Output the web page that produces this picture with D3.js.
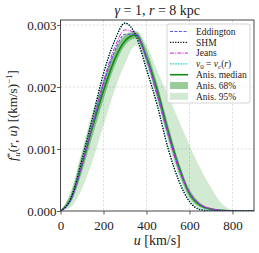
<!DOCTYPE html>
<html>
<head>
<meta charset="utf-8">
<script src="https://cdn.jsdelivr.net/npm/d3@7"></script>
<style>
  body { margin: 0; background: #fff; }
</style>
</head>
<body>
<div id="chart"></div>
<script>
// speed grid, km/s
const speeds = [0, 50, 100, 150, 200, 250, 300, 350, 400, 450, 500, 550, 600, 650, 700, 750, 800, 850, 900];

// f*_u(r,u)
const eddington = [0, 0.00019, 0.00073, 0.00139, 0.00204, 0.00256, 0.00285, 0.00285, 0.00248, 0.00190, 0.00127, 0.00070, 0.00030, 0.00010, 0.00003, 0.00001, 0, 0, 0];
const shm       = [0, 0.00022, 0.00083, 0.00152, 0.00222, 0.00273, 0.00303, 0.00283, 0.00228, 0.00170, 0.00101, 0.00049, 0.00015, 0.00002, 0, 0, 0, 0, 0];
const jeans     = [0, 0.00020, 0.00076, 0.00142, 0.00208, 0.00262, 0.00292, 0.00286, 0.00244, 0.00186, 0.00123, 0.00068, 0.00030, 0.00011, 0.00004, 0.00001, 0, 0, 0];
const vcirc     = [0, 0.00022, 0.00082, 0.00151, 0.00221, 0.00273, 0.00303, 0.00284, 0.00230, 0.00172, 0.00103, 0.00050, 0.00016, 0.00003, 0, 0, 0, 0, 0];
const anisMed   = [0, 0.00021, 0.00075, 0.00137, 0.00194, 0.00243, 0.00274, 0.00284, 0.00248, 0.00195, 0.00130, 0.00072, 0.00028, 0.00009, 0.00003, 0.00001, 0, 0, 0];
const anisLo68  = [0, 0.00015, 0.00063, 0.00122, 0.00180, 0.00232, 0.00267, 0.00278, 0.00240, 0.00183, 0.00118, 0.00062, 0.00022, 0.00006, 0.00001, 0, 0, 0, 0];
const anisHi68  = [0, 0.00030, 0.00092, 0.00155, 0.00210, 0.00255, 0.00283, 0.00289, 0.00260, 0.00205, 0.00140, 0.00080, 0.00035, 0.00013, 0.00004, 0.00001, 0, 0, 0];
const anisLo95  = [0, 0.00007, 0.00036, 0.00082, 0.00138, 0.00193, 0.00238, 0.00267, 0.00235, 0.00176, 0.00112, 0.00056, 0.00018, 0.00004, 0, 0, 0, 0, 0];
const anisHi95  = [0, 0.00034, 0.00098, 0.00162, 0.00217, 0.00260, 0.00285, 0.00291, 0.00268, 0.00226, 0.00187, 0.00146, 0.00106, 0.00069, 0.00038, 0.00012, 0.00002, 0, 0];

const xTicks = [0, 200, 400, 600, 800];
const yTicks = [0, 0.001, 0.002, 0.003];

const serif = "Liberation Serif";

const W = 259, H = 253;
const margin = { top: 20, right: 5, bottom: 42, left: 60.5 };
const width = W - margin.left - margin.right,
      height = H - margin.top - margin.bottom;

const svg = d3.select("#chart").append("svg")
    .attr("width", W)
    .attr("height", H);

const g = svg.append("g")
    .attr("transform", `translate(${margin.left},${margin.top})`);

const x = d3.scaleLinear().domain([0, 900]).range([0, width]);
const y = d3.scaleLinear().domain([0, 0.00308]).range([height, 0]);

// grid
g.append("g").selectAll("line").data(xTicks.slice(1)).join("line")
    .attr("x1", d => x(d)).attr("x2", d => x(d))
    .attr("y1", 0).attr("y2", height)
    .attr("stroke", "#d4d4d4").attr("stroke-width", 0.7).attr("stroke-dasharray", "2.5,1.5");
g.append("g").selectAll("line").data(yTicks.slice(1)).join("line")
    .attr("x1", 0).attr("x2", width)
    .attr("y1", d => y(d)).attr("y2", d => y(d))
    .attr("stroke", "#d4d4d4").attr("stroke-width", 0.7).attr("stroke-dasharray", "2.5,1.5");

svg.append("clipPath").attr("id", "clip")
  .append("rect").attr("width", width).attr("height", height);

const plot = g.append("g").attr("clip-path", "url(#clip)");

const rows = speeds.map((u, i) => ({ u, i }));

const band = (lo, hi) => d3.area()
    .x(d => x(d.u))
    .y0(d => y(lo[d.i]))
    .y1(d => y(hi[d.i]))
    .curve(d3.curveMonotoneX);

plot.append("path").datum(rows)
    .attr("d", band(anisLo95, anisHi95))
    .attr("fill", "#2ca02c").attr("fill-opacity", 0.22);
plot.append("path").datum(rows)
    .attr("d", band(anisLo68, anisHi68))
    .attr("fill", "#1f8f1f").attr("fill-opacity", 0.45);

const line = vals => d3.line()
    .x(d => x(d.u))
    .y(d => y(vals[d.i]))
    .curve(d3.curveMonotoneX);

const series = [
  { vals: anisMed,   color: "#138a13", width: 1.6, dash: null },
  { vals: eddington, color: "#5555ff", width: 1.1, dash: "3,1.5" },
  { vals: jeans,     color: "#e010e0", width: 1.0, dash: "4,1.2,1,1.2" },
  { vals: vcirc,     color: "#20d0d0", width: 1.1, dash: "1.6,1" },
  { vals: shm,       color: "#000000", width: 1.3, dash: "1.2,1.4" }
];

series.forEach(s => {
  plot.append("path").datum(rows)
      .attr("d", line(s.vals))
      .attr("fill", "none")
      .attr("stroke", s.color)
      .attr("stroke-width", s.width)
      .attr("stroke-dasharray", s.dash);
});

// axes
const xAxis = g.append("g")
    .attr("transform", `translate(0,${height})`)
    .call(d3.axisBottom(x).tickValues(xTicks).tickSize(3.5).tickFormat(d3.format("d")));
const yAxis = g.append("g")
    .call(d3.axisLeft(y).tickValues(yTicks).tickSize(3.5).tickFormat(d3.format(".3f")));
[xAxis, yAxis].forEach(a => {
  a.select(".domain").remove();
  a.selectAll("line").attr("stroke", "#333").attr("stroke-width", 0.8);
  a.selectAll("text").attr("fill", "#222")
      .style("font-family", serif).style("font-size", "13px");
});
xAxis.selectAll("text").attr("dy", "0.95em");
yAxis.selectAll("text").attr("x", -4);

g.append("rect")
    .attr("width", width).attr("height", height)
    .attr("fill", "none").attr("stroke", "#333").attr("stroke-width", 0.9);

// title
const title = svg.append("text")
    .attr("x", margin.left + width / 2).attr("y", 15)
    .attr("text-anchor", "middle")
    .style("font-family", serif).style("font-size", "14px").attr("fill", "#222");
title.append("tspan").style("font-style", "italic").text("γ");
title.append("tspan").text(" = 1,  ");
title.append("tspan").style("font-style", "italic").text("r");
title.append("tspan").text(" = 8 kpc");

// x label
const xl = svg.append("text")
    .attr("x", margin.left + width / 2).attr("y", 245)
    .attr("text-anchor", "middle")
    .style("font-family", serif).style("font-size", "14px").attr("fill", "#222");
xl.append("tspan").style("font-style", "italic").text("u");
xl.append("tspan").text(" [km/s]");

// y label
const yl = svg.append("text")
    .attr("transform", `translate(17,${margin.top + height / 2}) rotate(-90)`)
    .attr("text-anchor", "middle")
    .style("font-family", serif).style("font-size", "13px").attr("fill", "#222");
yl.append("tspan").style("font-style", "italic").text("f");
yl.append("tspan").attr("dy", -4).style("font-size", "9px").text("*");
yl.append("tspan").attr("dy", 7).attr("dx", -4).style("font-size", "9px").style("font-style", "italic").text("u");
yl.append("tspan").attr("dy", -3).text("(");
yl.append("tspan").style("font-style", "italic").text("r");
yl.append("tspan").text(", ");
yl.append("tspan").style("font-style", "italic").text("u");
yl.append("tspan").text(")  [(km/s)");
yl.append("tspan").attr("dy", -5).style("font-size", "9px").text("−1");
yl.append("tspan").attr("dy", 5).text("]");

// legend
const lg = svg.append("g").attr("transform", "translate(167,24)");
lg.append("rect")
    .attr("width", 83).attr("height", 79).attr("rx", 2)
    .attr("fill", "#fff").attr("fill-opacity", 0.8)
    .attr("stroke", "#ccc").attr("stroke-width", 0.8);

const legendItems = [
  { label: "Eddington", type: "line", color: "#5555ff", width: 1.1, dash: "3,1.5" },
  { label: "SHM", type: "line", color: "#000", width: 1.3, dash: "1.2,1.4" },
  { label: "Jeans", type: "line", color: "#e010e0", width: 1.0, dash: "4,1.2,1,1.2" },
  { label: "vc", type: "line", color: "#20d0d0", width: 1.1, dash: "1.6,1" },
  { label: "Anis. median", type: "line", color: "#138a13", width: 1.6, dash: null },
  { label: "Anis. 68%", type: "box", color: "#1f8f1f", opacity: 0.45 },
  { label: "Anis. 95%", type: "box", color: "#2ca02c", opacity: 0.22 }
];

legendItems.forEach((d, i) => {
  const yy = 7.5 + i * 10.8;
  if (d.type === "line") {
    lg.append("line")
        .attr("x1", 3).attr("x2", 21).attr("y1", yy).attr("y2", yy)
        .attr("stroke", d.color).attr("stroke-width", d.width)
        .attr("stroke-dasharray", d.dash);
  } else {
    lg.append("rect")
        .attr("x", 3).attr("y", yy - 3.5).attr("width", 18).attr("height", 7)
        .attr("fill", d.color).attr("fill-opacity", d.opacity);
  }
  const t = lg.append("text")
      .attr("x", 29).attr("y", yy + 3.2)
      .style("font-family", serif).style("font-size", "9.5px").attr("fill", "#222");
  if (d.label === "vc") {
    t.append("tspan").style("font-style", "italic").text("v");
    t.append("tspan").attr("dy", 2).style("font-size", "7px").text("0");
    t.append("tspan").attr("dy", -2).text(" = ");
    t.append("tspan").style("font-style", "italic").text("v");
    t.append("tspan").attr("dy", 2).style("font-size", "7px").style("font-style", "italic").text("c");
    t.append("tspan").attr("dy", -2).text("(");
    t.append("tspan").style("font-style", "italic").text("r");
    t.append("tspan").text(")");
  } else {
    t.text(d.label);
  }
});
</script>
</body>
</html>
